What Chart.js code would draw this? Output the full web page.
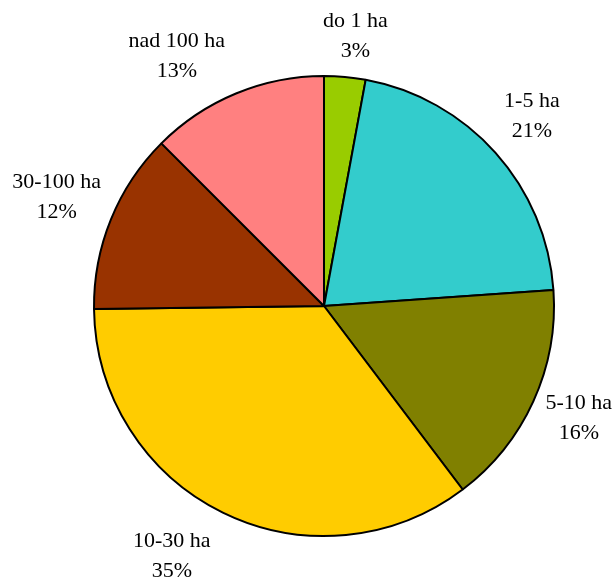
<!DOCTYPE html>
<html>
<head>
<meta charset="utf-8">
<script src="https://cdn.jsdelivr.net/npm/chart.js@4"></script>
<style>
  html, body { margin: 0; padding: 0; background: #ffffff; }
  #wrap { width: 615px; height: 577px; }
</style>
</head>
<body>
<div id="wrap"><canvas id="pieChart" width="615" height="577"></canvas></div>
<script>
// ---- DATA ----
const categories = ["do 1 ha", "1-5 ha", "5-10 ha", "10-30 ha", "30-100 ha", "nad 100 ha"];
const shares = [2.9, 21.0, 15.8, 35.1, 12.7, 12.5];      // slice sizes
const percentLabels = ["3%", "21%", "16%", "35%", "12%", "13%"];
const sliceColors = ["#99cc00", "#33cccc", "#808000", "#ffcc00", "#993300", "#ff8080"];

// labels outside the pie, two lines each
const outsideLabels = {
    id: "outsideLabels",
    afterDatasetsDraw(chart, args, opts) {
        const ctx = chart.ctx;
        const meta = chart.getDatasetMeta(0);
        ctx.save();
        ctx.font = opts.font;
        ctx.fillStyle = "#000";
        ctx.textAlign = "center";
        ctx.textBaseline = "middle";
        meta.data.forEach((arc, i) => {
            const p = arc.getProps(["x", "y", "startAngle", "endAngle", "outerRadius"], true);
            const mid = (p.startAngle + p.endAngle) / 2;
            const r = p.outerRadius + opts.distance;
            const nudge = opts.nudge[i] || [0, 0];
            const x = p.x + Math.cos(mid) * r + nudge[0];
            const y = p.y + Math.sin(mid) * r + nudge[1];
            ctx.fillText(categories[i], x, y - opts.lineGap / 2);
            ctx.fillText(percentLabels[i], x, y + opts.lineGap / 2);
        });
        ctx.restore();
    }
};

const ctx = document.getElementById("pieChart").getContext("2d");

new Chart(ctx, {
    type: "pie",
    data: {
        labels: categories,
        datasets: [{
            data: shares,
            backgroundColor: sliceColors,
            borderColor: "#000000",
            borderWidth: 2
        }]
    },
    options: {
        responsive: false,
        animation: false,
        layout: {
            padding: { left: 90, right: 57, top: 75, bottom: 40 }
        },
        plugins: {
            legend: { display: false },
            tooltip: { enabled: false },
            outsideLabels: {
                font: "22px 'Liberation Serif', 'Times New Roman', serif",
                distance: 50,
                lineGap: 30,
                nudge: [[6, 9], [-1, -3], [0, -4], [-29, -1], [-8, -3], [-40, 9]]
            }
        }
    },
    plugins: [outsideLabels]
});
</script>
</body>
</html>
